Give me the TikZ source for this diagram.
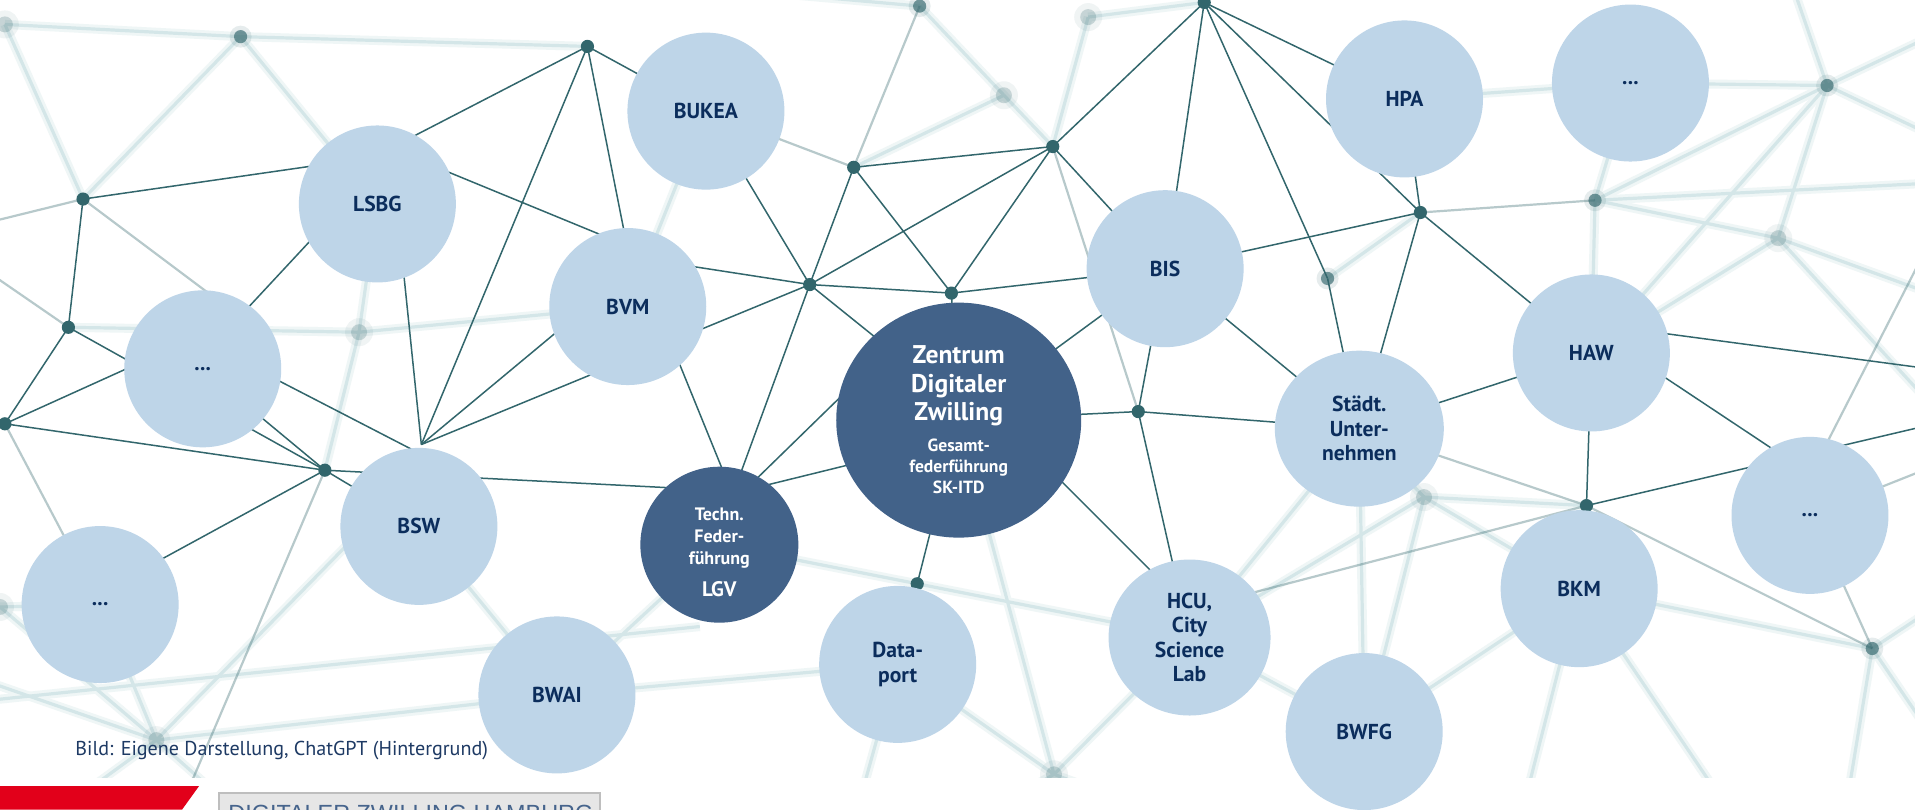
\documentclass[tikz,border=0pt]{standalone}
\usepackage{fontspec}
\setmainfont{PT Sans}
\newfontfamily\arialf{Liberation Sans}
\usetikzlibrary{shapes.geometric}
\pgfdeclarelayer{bg}
\pgfsetlayers{bg,main}
\definecolor{lightc}{RGB}{190,213,232}
\definecolor{darkc}{RGB}{66,98,137}
\definecolor{navyc}{RGB}{11,45,92}
\definecolor{netc}{RGB}{50,102,108}
\definecolor{blurcore}{RGB}{212,230,232}
\definecolor{blurhalo}{RGB}{239,246,246}
\definecolor{capc}{RGB}{30,58,100}
\definecolor{redc}{RGB}{226,0,26}
\definecolor{boxc}{RGB}{230,230,230}
\definecolor{boxline}{RGB}{190,190,190}
\definecolor{boxtext}{RGB}{70,100,140}
\newcommand\smallz[1]{{\fontsize{8.8}{10.7}\selectfont #1}}
\begin{document}
\begin{tikzpicture}[x=0.6107pt,y=-0.6107pt,
  org/.style={ellipse,fill=lightc,inner sep=0pt,minimum width=78.5pt,minimum height=78.5pt,align=center,text=navyc,font=\bfseries\fontsize{10.8}{12.2}\selectfont},
  lead/.style={ellipse,fill=darkc,inner sep=0pt,align=center,text=white},
  net/.style={draw=netc,line width=0.75pt},
  netm/.style={draw=netc,line width=1.1pt,opacity=.35},
  nethalo/.style={draw=blurhalo,line width=4.5pt},
  netcore/.style={draw=blurcore,line width=1.6pt},
]
\useasboundingbox (0,0) rectangle (1568,663);
% ---------- organisation circles ----------
\node[org] (bukea) at (578,91) {BUKEA};
\node[org] (lsbg) at (309,167) {LSBG};
\node[org] (bvm) at (514,251) {BVM};
\node[org] (dotsl) at (166,302) {...};
\node[org] (bsw) at (343,431) {BSW};
\node[org] (dotsbl) at (82,495) {...};
\node[org] (bwai) at (456,569) {BWAI};
\node[org] (dataport) at (735,544) {Data-\\port};
\node[org,minimum width=81pt,minimum height=78pt] (hcu) at (974,522) {HCU,\\City\\Science\\Lab};
\node[org] (bwfg) at (1117,599) {BWFG};
\node[org] (bis) at (954,220) {BIS};
\node[org] (hpa) at (1150,81) {HPA};
\node[org] (dotstr) at (1335,68) {...};
\node[org,minimum width=84.5pt,minimum height=78pt] (staedt) at (1113,351) {Städt.\\Unter-\\nehmen};
\node[org] (haw) at (1303,289) {HAW};
\node[org] (bkm) at (1293,482) {BKM};
\node[org] (dotsr) at (1482,422) {...};
\node[lead,minimum width=122.5pt,minimum height=117.5pt,font=\bfseries\fontsize{12.8}{14.2}\selectfont] (zdz) at (785,344)
  {Zentrum\\Digitaler\\Zwilling\\[1pt]
   \smallz{Gesamt-}\\[-3.5pt]\smallz{federführung}\\[-3.5pt]\smallz{SK-ITD}};
\node[lead,minimum width=79pt,minimum height=78pt,font=\bfseries\fontsize{9}{11}\selectfont] (lgv) at (589,446)
  {\rule{0pt}{14pt}Techn.\\Feder-\\führung\\[5pt]{\fontsize{10.5}{12}\selectfont LGV}};
% ---------- caption and footer ----------
\node[anchor=base west,inner sep=0pt,text=capc,font=\fontsize{10.05}{12}\selectfont] (cap) at (61.4,618.2) {Bild: Eigene Darstellung, ChatGPT (Hintergrund)};
\fill[redc] (0,643.6) -- (163,643.6) -- (149,663) -- (0,663) -- cycle;
\filldraw[fill=boxc,draw=boxline,line width=0.6pt] (179.3,649.3) rectangle (491.3,680);
\node[anchor=base west,inner sep=0pt,text=boxtext,font=\arialf\fontsize{11.7}{14}\selectfont] (foot) at (186.7,672.8) {DIGITALER ZWILLING HAMBURG};
% ---------- background network ----------
\begin{pgfonlayer}{bg}
\fill[white] (0,0) rectangle (1568,663);
\begin{scope}
\clip (0,0) rectangle (1568,637);
\coordinate (a1) at (4,20);
\coordinate (a2) at (197,30);
\coordinate (a3) at (481,38);
\coordinate (a4) at (68,163);
\coordinate (a5) at (56,268);
\coordinate (a6) at (4,347);
\coordinate (a7) at (266,385);
\coordinate (a8) at (294,272);
\coordinate (a9) at (663,233);
\coordinate (a10) at (779,240);
\coordinate (a11) at (699,137);
\coordinate (a12) at (862,120);
\coordinate (a13) at (986,2);
\coordinate (a14) at (932,337);
\coordinate (a15) at (1087,228);
\coordinate (a16) at (1163,174);
\coordinate (a17) at (1306,164);
\coordinate (a18) at (1496,70);
\coordinate (a19) at (1456,195);
\coordinate (a20) at (1299,414);
\coordinate (a21) at (1166,407);
\coordinate (a22) at (751,478);
\coordinate (a23) at (1533,531);
\coordinate (a24) at (753,5);
\coordinate (a25) at (822,78);
\coordinate (a26) at (891,14);
\coordinate (a27) at (128,606);
\coordinate (a28) at (863,634);
\coordinate (a29) at (0,497);
\coordinate (h1) at (345,364);
\coordinate (q1) at (270,147);
\coordinate (q2) at (523,250);
\coordinate (q3) at (309,117);
\coordinate (q4) at (540,212);
\coordinate (q5) at (540,214);
\coordinate (q6) at (290,131);
\coordinate (q7) at (270,180);
\coordinate (q8) at (190,266);
\coordinate (q9) at (325,170);
\coordinate (q10) at (130,290);
\coordinate (q11) at (190,292);
\coordinate (q12) at (345,372);
\coordinate (q13) at (110,470);
\coordinate (q14) at (600,402);
\coordinate (q15) at (482,250);
\coordinate (q16) at (740,295);
\coordinate (q17) at (600,405);
\coordinate (q18) at (545,270);
\coordinate (q19) at (606,420);
\coordinate (q20) at (720,294);
\coordinate (q21) at (600,411);
\coordinate (q22) at (730,372);
\coordinate (q23) at (600,404);
\coordinate (q24) at (820,345);
\coordinate (q25) at (975,500);
\coordinate (q26) at (1000,492);
\coordinate (q27) at (1340,270);
\coordinate (q28) at (1580,302);
\coordinate (q29) at (1330,287);
\coordinate (q30) at (1470,380);
\coordinate (q31) at (1580,348);
\coordinate (q32) at (1579,200);
\coordinate (q33) at (1487,380);
\coordinate (q34) at (1580,383);
\coordinate (q35) at (1495,447);
\coordinate (q36) at (-5,181);
\coordinate (q37) at (-5,226);
\coordinate (q38) at (157,640);
\coordinate (q39) at (180,247);
\coordinate (q40) at (300,430);
\coordinate (q41) at (-5,560);
\coordinate (q42) at (200,670);
\coordinate (q43) at (40,670);
\coordinate (q44) at (-5,573);
\coordinate (q45) at (573,513);
\coordinate (q46) at (800,670);
\coordinate (q47) at (960,670);
\coordinate (q48) at (1510,670);
\coordinate (q49) at (1580,500);
\coordinate (q50) at (1580,600);
\coordinate (q51) at (1420,670);
\coordinate (q52) at (1245,670);
\coordinate (q53) at (1470,-5);
\coordinate (q54) at (1580,30);
\coordinate (q55) at (1580,110);
\coordinate (q56) at (1580,150);
\coordinate (q57) at (1580,240);
\coordinate (q58) at (1580,330);
\coordinate (q59) at (640,-5);
\coordinate (q60) at (700,670);
% blurred lines: halos first, then cores
\def\blurlist{a1/a2,a2/a3,a1/a4,a2/a4,a2/lsbg.center,a5/a8,a8/bvm.center,a8/lsbg.center,a8/a7,
  bukea.center/bvm.center,a27/q40,a27/q41,a27/dotsbl.center,a27/bwai.center,a27/q42,a27/q43,
  a29/dotsbl.center,a29/a27,q44/q45,bsw.center/bwai.center,lgv.center/bwai.center,lgv.center/a22,
  a22/hcu.center,zdz.center/a28,a28/dataport.center,a28/hcu.center,a28/q46,a28/q47,
  a21/staedt.center,a21/bkm.center,a21/a20,a21/hcu.center,a21/bwfg.center,staedt.center/bwfg.center,
  staedt.center/hcu.center,bwfg.center/bkm.center,bkm.center/a23,a23/q48,a23/q49,a23/q50,
  bkm.center/q51,q52/bkm.center,a18/q53,a18/q54,a18/q55,a18/a19,a18/dotstr.center,a18/a17,
  a18/haw.center,a17/dotstr.center,a17/haw.center,a17/q56,a19/haw.center,a19/q57,a19/q58,a19/a17,
  hpa.center/dotstr.center,a24/a25,a25/a12,a25/a11,a26/a13,a26/a12,a24/q59,a15/a16,
  dataport.center/bwai.center,dataport.center/q60,hcu.center/bwfg.center}
\foreach \p/\q in \blurlist {\path[nethalo] (\p) -- (\q);}
\foreach \p/\q in \blurlist {\path[netcore] (\p) -- (\q);}
% medium lines
\foreach \p/\q in {a12/a14,staedt.center/a20,a20/q26,q32/q33,dotsr.center/q34,q35/a23,q36/a4,q37/a5,
  q39/a4,a7/q38,bukea.center/a11,a24/a11,a6/dotsbl.center,a20/a23,a16/a17}
  {\path[netm] (\p) -- (\q);}
% sharp lines
\foreach \p/\q in {a3/bukea.center,a3/q1,a3/q2,a3/h1,q3/q4,q5/a9,q6/a4,q7/q8,q9/h1,a4/a5,a5/a7,a5/a6,
  a6/a7,a6/q10,a7/dotsl.center,q11/q12,a7/bsw.center,a7/q13,a7/q14,h1/q15,h1/a9,bukea.center/a9,
  a9/a11,a9/a12,a9/a10,a9/q16,a9/q17,q18/q19,q20/q21,q22/q23,a10/zdz.center,a11/a10,a10/a12,
  a10/bis.center,a11/a12,a12/a13,a12/bis.center,a13/bis.center,a13/a15,a13/hpa.center,a13/a16,
  bis.center/a16,a16/hpa.center,a16/staedt.center,a16/haw.center,bis.center/staedt.center,
  a15/staedt.center,staedt.center/haw.center,staedt.center/a14,a14/bis.center,a14/zdz.center,
  a14/hcu.center,q24/q25,bis.center/zdz.center,zdz.center/a22,a22/dataport.center,haw.center/a20,
  a20/q31,q27/q28,q29/q30}
  {\path[net] (\p) -- (\q);}
% dots
\foreach \d in {a3,a4,a5,a6,a7,a9,a10,a11,a12,a13,a14,a16,a20,a22}
  {\fill[netc] (\d) circle[radius=3.3pt];}
\foreach \d in {a2,a15,a17,a18,a23,a24}
  {\fill[netc,opacity=.12] (\d) circle[radius=5.5pt]; \fill[netc,opacity=.65] (\d) circle[radius=3.3pt];}
\foreach \d in {a1,a8,a19,a21,a25,a26,a27,a28,a29}
  {\fill[netc,opacity=.07] (\d) circle[radius=7pt]; \fill[netc,opacity=.22] (\d) circle[radius=4pt];}
\end{scope}
\end{pgfonlayer}
\end{tikzpicture}
\end{document}
